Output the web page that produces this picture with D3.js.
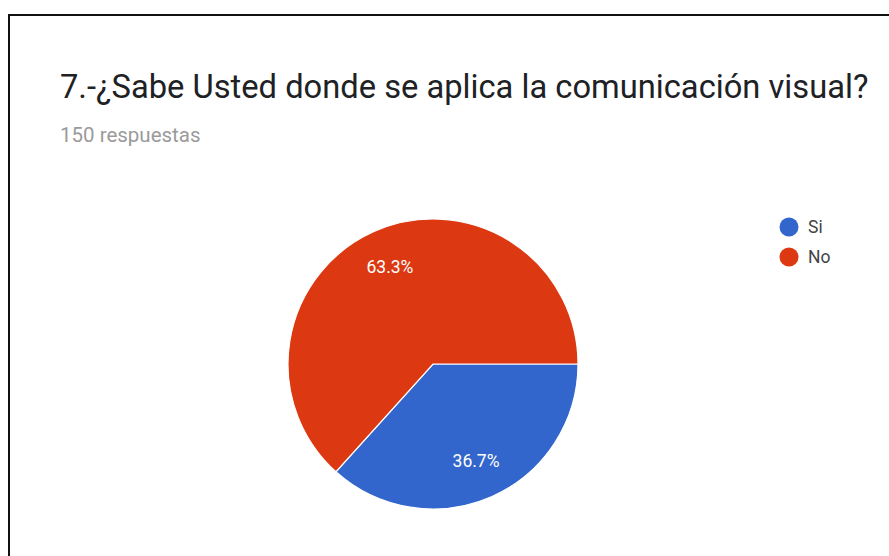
<!DOCTYPE html>
<html>
<head>
<meta charset="utf-8">
<script src="https://cdn.jsdelivr.net/npm/d3@7"></script>
<style>
  html, body { margin: 0; padding: 0; background: #fff; }
  svg { display: block; }
</style>
</head>
<body>
<svg id="chart" width="889" height="556"></svg>
<script>
// Survey answers
const categories = ["Si", "No"];
const counts = [55, 95];
const percentLabels = ["36.7%", "63.3%"];
const colors = ["#3366cc", "#dc3912"];
const title = "7.-¿Sabe Usted donde se aplica la comunicación visual?";
const subtitle = "150 respuestas";

const svg = d3.select("#chart");
const W = 889, H = 556;

// Card frame: top and left edges
svg.append("line").attr("x1", 8).attr("y1", 15).attr("x2", W).attr("y2", 15)
  .attr("stroke", "#111").attr("stroke-width", 2);
svg.append("line").attr("x1", 9).attr("y1", 14).attr("x2", 9).attr("y2", H)
  .attr("stroke", "#111").attr("stroke-width", 2);

svg.append("text")
  .attr("x", 60).attr("y", 98)
  .attr("font-family", "Roboto, sans-serif")
  .attr("font-size", 32.7)
  .attr("fill", "#202124")
  .text(title);

svg.append("text")
  .attr("x", 60).attr("y", 142)
  .attr("font-family", "Roboto, sans-serif")
  .attr("font-size", 20.5)
  .attr("fill", "#9a9a9a")
  .text(subtitle);

// Pie
const cx = 433, cy = 364, r = 145;
const data = categories.map((c, i) => ({ cat: c, value: counts[i], label: percentLabels[i], color: colors[i] }));
const pie = d3.pie().sort(null).value(d => d.value)
  .startAngle(Math.PI / 2).endAngle(Math.PI / 2 + 2 * Math.PI);
const arc = d3.arc().innerRadius(0).outerRadius(r);
const labelArc = d3.arc().innerRadius(r * 0.73).outerRadius(r * 0.73);

const g = svg.append("g").attr("transform", `translate(${cx},${cy})`);
const arcs = pie(data);
g.selectAll("path.slice").data(arcs).enter().append("path")
  .attr("class", "slice")
  .attr("d", arc)
  .attr("fill", d => d.data.color)
  .attr("stroke", "#fff")
  .attr("stroke-width", 1.2);

g.selectAll("text.pct").data(arcs).enter().append("text")
  .attr("class", "pct")
  .attr("transform", d => `translate(${labelArc.centroid(d)})`)
  .attr("text-anchor", "middle")
  .attr("dy", "0.35em")
  .attr("font-family", "Roboto, sans-serif")
  .attr("font-size", 17.5)
  .attr("fill", "#fff")
  .text(d => d.data.label);

// Legend
const legend = svg.append("g").attr("transform", "translate(789,227)");
const items = legend.selectAll("g").data(data).enter().append("g")
  .attr("transform", (d, i) => `translate(0,${i * 30})`);
items.append("circle").attr("r", 9.5).attr("fill", d => d.color);
items.append("text")
  .attr("x", 19).attr("dy", "0.35em")
  .attr("font-family", "Roboto, sans-serif")
  .attr("font-size", 17.5)
  .attr("fill", "#444")
  .text(d => d.cat);
</script>
</body>
</html>
